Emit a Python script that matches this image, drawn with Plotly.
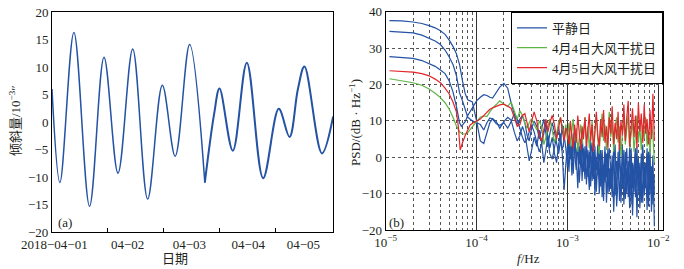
import pandas as pd
import plotly.graph_objects as go

# ---------------- (a) tilt time series ----------------
hours = [0, 3.4, 9.4, 16.1, 22.3, 28.3, 34.6, 41.0, 47.3, 52.8, 59.0, 65.5,
         69.5, 71.8, 77.5, 83.5, 90.5, 97.2, 101.8, 105.4, 108.2, 115.7, 120.5]
tilt = [6.0, -11.0, 16.3, -15.3, 11.8, -9.3, 13.3, -14.0, 6.7, -6.2, 14.1, -11.0,
        1.5, 6.1, -5.2, 10.8, -10.2, 2.4, -2.7, 6.0, 10.1, -5.7, 1.0]
start_day = "2018-04-01"
date_label_pos = ["2018-04-01 01:00", "2018-04-02 08:24", "2018-04-03 10:55",
                  "2018-04-04 12:07", "2018-04-05 11:45"]
date_labels = ["2018\u221204\u221201", "04\u221202", "04\u221203", "04\u221204", "04\u221205"]
day_marks = ["2018-04-02", "2018-04-03", "2018-04-04", "2018-04-05"]

# ---------------- (b) PSD ----------------
freq_low_a = [1.1e-5, 1.5e-5, 2e-5, 2.5e-5, 3e-5, 3.5e-5, 4e-5, 4.5e-5, 5e-5, 5.5e-5,
              6e-5, 6.5e-5, 7e-5, 7.5e-5, 8e-5, 9e-5, 1e-4]
psd_low_a = [37.6, 37.5, 37.2, 36.8, 36.2, 35.6, 34.8, 33.8, 32.2, 30.5,
             28.5, 25.5, 21.0, 17.5, 15.8, 15.2, 10.0]
freq_low_b = [1.1e-5, 1.5e-5, 2e-5, 2.5e-5, 3e-5, 3.5e-5, 4e-5, 4.5e-5, 5e-5, 5.5e-5,
              6e-5, 6.5e-5, 7e-5, 7.5e-5, 8e-5, 9e-5, 1e-4]
psd_low_b = [34.6, 34.4, 34.2, 33.6, 32.8, 32.0, 31.0, 29.5, 27.6, 25.5,
             22.5, 17.7, 15.5, 13.2, 11.0, 10.0, 9.5]
freq_low_c = [1.1e-5, 1.5e-5, 2e-5, 2.5e-5, 3e-5, 3.5e-5, 4e-5, 4.5e-5, 5e-5, 5.5e-5,
              6e-5, 6.5e-5, 6.8e-5, 7.5e-5, 8e-5, 9e-5, 1e-4]
psd_low_c = [27.7, 27.5, 27.2, 26.6, 25.8, 25.0, 24.0, 23.0, 21.0, 18.0,
             14.0, 9.5, 8.5, 9.8, 11.5, 13.5, 15.5]
freq_low_g = [1.1e-5, 1.5e-5, 2e-5, 2.5e-5, 3e-5, 3.5e-5, 4e-5, 4.5e-5, 5e-5, 5.5e-5,
              6e-5, 6.5e-5, 7e-5, 7.5e-5, 8e-5, 9e-5, 1e-4]
psd_low_g = [21.6, 21.0, 20.5, 19.8, 18.8, 17.6, 16.4, 15.0, 13.2, 11.0,
             8.6, 7.0, 6.4, 6.4, 6.8, 8.4, 9.8]
freq_low_r = [1.1e-5, 1.5e-5, 2e-5, 2.5e-5, 3e-5, 3.5e-5, 4e-5, 4.5e-5, 5e-5, 5.5e-5,
              6e-5, 6.3e-5, 6.6e-5, 7e-5, 7.5e-5, 8.5e-5, 9.5e-5]
psd_low_r = [23.8, 23.6, 23.4, 23.0, 22.4, 21.5, 20.5, 19.0, 17.4, 15.2,
             12.5, 8.5, 2.0, 4.0, 6.0, 8.9, 9.7]

freq_mid = [1.1e-4, 1.2e-4, 1.3e-4, 1.4e-4, 1.5e-4, 1.65e-4, 1.8e-4, 2.0e-4, 2.2e-4, 2.4e-4,
            2.6e-4, 2.8e-4, 3.0e-4, 3.2e-4, 3.4e-4, 3.6e-4, 3.8e-4, 4.0e-4, 4.3e-4, 4.6e-4,
            4.9e-4, 5.2e-4, 5.5e-4, 5.8e-4, 6.1e-4, 6.4e-4, 6.8e-4, 7.2e-4, 7.6e-4, 8.0e-4,
            8.4e-4, 8.8e-4, 9.2e-4, 9.6e-4]
psd_mid_a = [4.5, 3.8, 6.5, 9.5, 10.6, 9.8, 8.0, 9.8, 11.0, 10.2,
             7.0, 4.5, 6.0, 8.5, 6.5, 3.0, -1.0, 1.5, 5.5, 3.0,
             7.5, 4.0, -1.5, 2.0, 6.0, 2.5, 5.5, 1.0, -1.5, 3.5,
             6.5, 0.5, -9.0, -2.0]
psd_mid_b = [9.0, 7.5, 9.5, 10.8, 10.5, 9.2, 8.8, 9.5, 8.0, 9.8,
             12.0, 10.5, 7.5, 5.5, 4.0, 5.0, 7.0, 9.0, 7.0, 4.5,
             1.5, 3.5, 7.0, 9.5, 5.0, 1.0, -0.5, 2.5, 6.0, 8.5,
             4.0, 2.0, 5.0, 7.5]
psd_mid_c = [16.5, 17.2, 17.0, 16.5, 16.3, 17.8, 19.3, 20.3, 19.0, 15.0,
             11.5, 9.0, 10.5, 11.5, 9.5, 6.0, 4.5, 7.5, 10.0, 8.5,
             5.0, 8.0, 10.5, 6.5, 3.0, 6.5, 9.5, 7.0, 3.5, 1.0,
             4.5, 9.0, 6.0, 2.5]
psd_mid_g = [11.0, 11.4, 11.2, 12.5, 13.5, 14.5, 15.5, 14.6, 14.0, 15.2,
             12.5, 10.5, 12.8, 11.5, 9.5, 8.0, 9.5, 10.5, 9.0, 7.5,
             10.0, 8.5, 3.5, 5.5, 8.5, 10.5, 7.5, 4.0, 6.5, 9.5,
             11.0, 8.0, 5.5, 9.0]
psd_mid_r = [10.5, 11.5, 12.5, 13.2, 13.6, 14.0, 14.4, 14.6, 14.0, 13.5,
             11.0, 8.5, 9.0, 11.5, 12.0, 9.5, 7.0, 9.5, 12.5, 10.0,
             6.0, 4.5, 8.0, 10.5, 7.0, 9.5, 11.5, 9.0, 5.0, 8.5,
             11.0, 7.0, 4.5, 8.0]

freq_high = [1.00e-3, 1.04e-3, 1.08e-3, 1.12e-3, 1.16e-3, 1.20e-3, 1.25e-3, 1.30e-3, 1.35e-3, 1.40e-3,
             1.45e-3, 1.50e-3, 1.56e-3, 1.62e-3, 1.68e-3, 1.74e-3, 1.80e-3, 1.87e-3, 1.94e-3, 2.01e-3,
             2.08e-3, 2.16e-3, 2.24e-3, 2.32e-3, 2.41e-3, 2.50e-3, 2.59e-3, 2.69e-3, 2.79e-3, 2.89e-3,
             3.00e-3, 3.11e-3, 3.23e-3, 3.35e-3, 3.48e-3, 3.61e-3, 3.74e-3, 3.88e-3, 4.03e-3, 4.18e-3,
             4.34e-3, 4.50e-3, 4.67e-3, 4.84e-3, 5.02e-3, 5.21e-3, 5.41e-3, 5.61e-3, 5.82e-3, 6.04e-3,
             6.27e-3, 6.50e-3, 6.75e-3, 7.00e-3, 7.26e-3, 7.53e-3, 7.81e-3, 8.11e-3, 8.41e-3, 8.73e-3,
             9.06e-3]
psd_high_a = [3.0, -4.0, 5.5, -1.0, 6.5, 1.0, -3.5, 4.0, -2.0, 5.0,
              -6.5, 2.5, -3.0, 4.5, -5.5, 1.5, -8.0, 0.5, -4.5, 3.0,
              -9.5, -1.0, -6.0, 2.0, -11.0, -2.0, -7.0, 1.0, -10.0, -3.0,
              -8.5, 0.5, -15.0, -4.0, -9.0, 1.5, -12.0, -2.5, -8.0, 2.0,
              -11.5, -3.0, -7.5, 3.0, -13.0, -1.5, -9.5, 2.0, -16.5, -4.0,
              -10.0, 1.0, -12.5, -2.0, -8.5, 2.5, -13.5, -3.5, -9.0, 0.5,
              -19.0]
psd_high_b = [7.5, 0.5, 4.0, -5.0, 2.5, 7.0, -1.5, 3.5, -7.0, 1.0,
              4.5, -4.0, 3.0, -7.5, 2.0, -3.0, 4.5, -6.5, 1.5, -10.5,
              0.0, -5.0, 3.5, -8.0, -1.0, -12.0, 1.5, -5.5, 2.5, -9.5,
              -2.0, -7.0, 3.0, -10.5, -1.0, -6.0, 4.0, -12.5, -3.0, -7.5,
              1.5, -10.0, -1.0, -14.0, 2.5, -8.5, -2.0, -11.0, 3.0, -9.5,
              -1.5, -12.5, 2.0, -8.0, -1.5, -14.5, 1.5, -10.0, -2.5, -13.0,
              -5.0]
psd_high_c = [-2.5, 6.0, -0.5, 3.0, -4.5, 5.0, 1.0, -8.5, 3.0, -2.5,
              6.0, -1.0, -6.0, 2.5, -1.5, -9.0, 1.0, 4.0, -6.0, 0.5,
              -3.5, 3.5, -10.0, -3.0, 2.0, -6.5, 3.0, -12.5, -1.5, 2.5,
              -5.5, -11.0, -1.0, 3.5, -13.5, -4.5, 0.5, -7.0, 3.0, -13.0,
              -5.0, 2.5, -11.0, -4.0, 1.0, -16.0, -3.0, 2.5, -8.0, 0.0,
              -14.0, -4.5, 3.5, -10.5, -3.0, 1.0, -8.5, 2.5, -15.0, -4.0,
              -10.0]
psd_high_g = [5.0, 9.5, 3.0, 7.5, 10.5, 4.5, 8.0, 1.5, 6.5, 9.0,
              3.5, 7.0, 11.0, 4.0, 8.5, 2.5, 6.0, 10.0, 3.0, 7.5,
              11.5, 5.0, 1.0, 8.0, 12.0, 4.5, 9.0, 2.0, 7.0, 12.5,
              5.5, 9.5, 1.5, 8.0, 11.0, 4.0, 8.5, 0.5, 6.5, 10.5,
              3.5, 8.0, 12.0, 2.5, 7.0, 10.0, 1.5, 6.0, 11.5, 4.0,
              8.5, 2.0, 9.0, 5.0, 11.0, 3.0, 7.5, 1.0, 9.5, 6.0,
              -1.5]
psd_high_r = [7.0, 3.5, 10.0, 5.5, 2.5, 9.0, 4.0, 11.5, 6.0, 2.0,
              8.5, 5.0, 11.0, 3.0, 7.5, 12.0, 4.5, 9.0, 1.5, 7.0,
              12.5, 6.0, 3.0, 10.5, 5.5, 13.0, 4.0, 8.5, 2.5, 11.0,
              6.5, 14.0, 3.5, 9.5, 5.0, 12.5, 2.0, 10.0, 6.0, 14.5,
              4.5, 11.0, 15.5, 3.0, 9.0, 13.5, 5.5, 11.5, 2.5, 15.0,
              7.0, 12.0, 4.0, 14.5, 6.5, 10.5, 3.5, 13.0, 5.0, 17.5,
              4.5]

x_tickvals = [1e-5, 1e-4, 1e-3, 1e-2]
x_ticktext = ["10<sup>\u22125</sup>", "10<sup>\u22124</sup>", "10<sup>\u22123</sup>", "10<sup>\u22122</sup>"]
x_minor = [2e-5, 3e-5, 4e-5, 5e-5, 6e-5, 7e-5, 8e-5, 9e-5,
           2e-4, 3e-4, 4e-4, 5e-4, 6e-4, 7e-4, 8e-4, 9e-4,
           2e-3, 3e-3, 4e-3, 5e-3, 6e-3, 7e-3, 8e-3, 9e-3]

legend_names = ["平静日", "4月4日大风干扰日", "4月5日大风干扰日"]

BLUE = "#2452a4"
GREEN = "#5fb446"
RED = "#e3262b"
FONT = "Liberation Serif, 'Noto Sans CJK SC', serif"
TXT = "#231f20"

times = pd.Timestamp(start_day) + pd.to_timedelta(hours, unit="h")

fig = go.Figure()
split = 11
fig.add_trace(go.Scatter(x=times[:split + 1], y=tilt[:split + 1], mode="lines",
                         line=dict(color=BLUE, width=1.5, shape="spline"),
                         showlegend=False, xaxis="x", yaxis="y"))
fig.add_trace(go.Scatter(x=times[split:], y=tilt[split:], mode="lines",
                         line=dict(color=BLUE, width=2.0, shape="spline"),
                         showlegend=False, xaxis="x", yaxis="y"))

blue_sets = [(freq_low_a, psd_low_a, psd_mid_a, psd_high_a),
             (freq_low_b, psd_low_b, psd_mid_b, psd_high_b),
             (freq_low_c, psd_low_c, psd_mid_c, psd_high_c)]
for i, (fl, pl, pm, ph) in enumerate(blue_sets):
    fig.add_trace(go.Scatter(x=fl + freq_mid + freq_high, y=pl + pm + ph, mode="lines",
                             line=dict(color=BLUE, width=1.2), name=legend_names[0],
                             legendgroup="quiet", showlegend=(i == 0),
                             xaxis="x2", yaxis="y2"))
fig.add_trace(go.Scatter(x=freq_low_g + freq_mid + freq_high, y=psd_low_g + psd_mid_g + psd_high_g,
                         mode="lines", line=dict(color=GREEN, width=1.2), name=legend_names[1],
                         xaxis="x2", yaxis="y2"))
fig.add_trace(go.Scatter(x=freq_low_r + freq_mid + freq_high, y=psd_low_r + psd_mid_r + psd_high_r,
                         mode="lines", line=dict(color=RED, width=1.2), name=legend_names[2],
                         xaxis="x2", yaxis="y2"))

axis_common = dict(showline=True, linecolor="black", linewidth=1, mirror=True,
                   zeroline=False, automargin=False,
                   tickfont=dict(family=FONT, size=13, color=TXT))


def label(text, px, py, angle=0):
    return dict(text=text, x=px / 684, y=1 - py / 269, xref="paper", yref="paper",
                xanchor="center", yanchor="middle", textangle=angle, showarrow=False,
                font=dict(family=FONT, size=13, color=TXT))


fig.update_layout(
    width=684, height=269,
    margin=dict(l=0, r=0, t=0, b=0, autoexpand=False),
    paper_bgcolor="white", plot_bgcolor="white",
    font=dict(family=FONT, size=13, color=TXT),
    xaxis=dict(domain=[0.076, 0.487], type="date",
               range=["2018-04-01 00:00", "2018-04-06 00:29"],
               tickmode="array", tickvals=date_label_pos, ticktext=date_labels,
               ticks="", showgrid=False, anchor="y",
               minor=dict(tickvals=day_marks, ticks="inside", ticklen=4,
                          tickcolor="black", showgrid=False),
               **axis_common),
    yaxis=dict(domain=[0.1375, 0.955], range=[-20, 20], dtick=5, tick0=0,
               ticks="", showgrid=False, anchor="x", **axis_common),
    xaxis2=dict(domain=[0.5639, 0.9693], type="log", range=[-5, -1.948],
                tickmode="array", tickvals=x_tickvals, ticktext=x_ticktext,
                ticks="", showgrid=True, gridcolor="#333333", gridwidth=0.8, anchor="y2",
                minor=dict(tickvals=x_minor, ticks="", showgrid=True, gridcolor="#555555",
                           gridwidth=0.8, griddash="dot"),
                **axis_common),
    yaxis2=dict(domain=[0.145, 0.956], range=[-20, 40], dtick=10, tick0=0,
                ticks="", showgrid=True, gridcolor="#555555", gridwidth=0.8, griddash="dot",
                anchor="x2", **axis_common),
    legend=dict(x=0.9693, xanchor="right", y=0.956, yanchor="top",
                bgcolor="white", bordercolor="black", borderwidth=1,
                font=dict(family=FONT, size=13, color=TXT), tracegroupgap=0),
    annotations=[
        label("倾斜量/10<sup>\u22123</sup>″", 15, 121, -90),
        label("日期", 175, 258),
        label("(a)", 65, 222),
        label("PSD/(dB · Hz<sup>\u22121</sup>)", 355, 123, -90),
        label("<i>f</i>/Hz", 528, 258),
        label("(b)", 397, 222),
    ],
)

fig.write_html("out.html", config={"displayModeBar": False},
               post_script="document.body.style.margin='0';document.body.style.overflow='hidden';")
